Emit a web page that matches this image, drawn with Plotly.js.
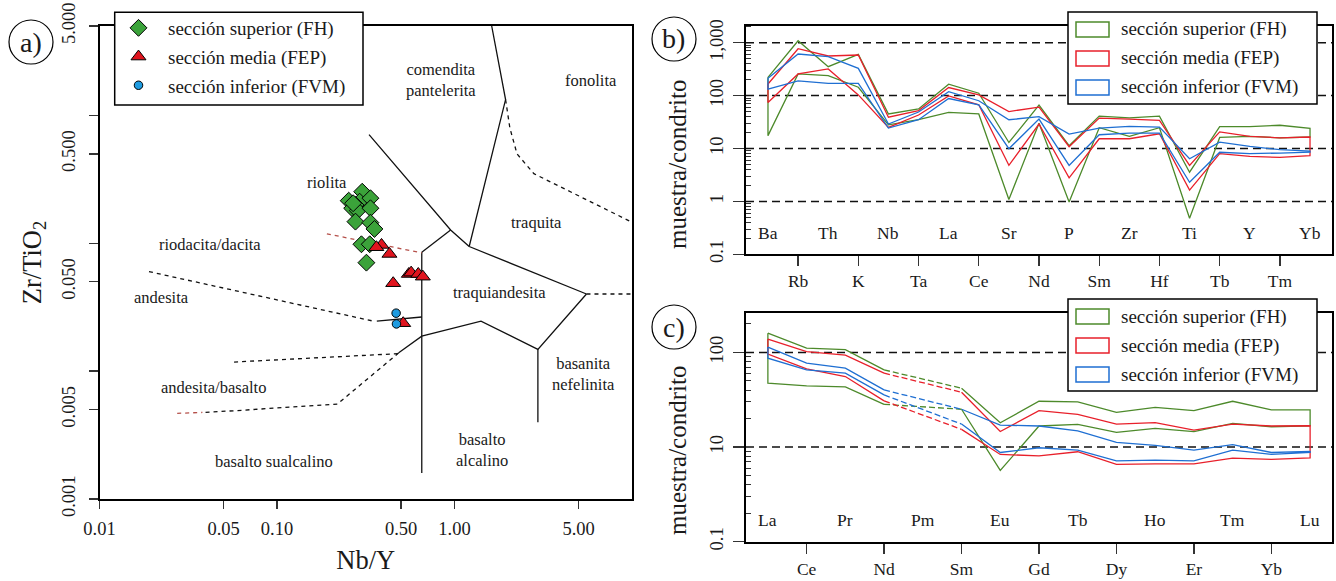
<!DOCTYPE html>
<html><head><meta charset="utf-8">
<script src="https://cdn.plot.ly/plotly-3.0.1.min.js"></script>
<style>html,body{margin:0;padding:0;background:#fff}#chart{width:1336px;height:581px}</style>
</head><body><div id="chart"></div>
<script>
// ---------- Panel a: Zr/TiO2 vs Nb/Y ----------
const seriesNames = ['sección superior (FH)', 'sección media (FEP)', 'sección inferior (FVM)'];
const fhNbY     = [0.302, 0.2535, 0.292, 0.336, 0.2767, 0.265, 0.285, 0.336, 0.2767, 0.336, 0.354, 0.299, 0.333, 0.319, 0.2685];
const fhZrTiO2  = [0.253, 0.2153, 0.2114, 0.225, 0.1993, 0.1878, 0.180, 0.1878, 0.1476, 0.1449, 0.1294, 0.0982, 0.0982, 0.0705, 0.2056];
const fepNbY    = [0.388, 0.363, 0.430, 0.553, 0.570, 0.625, 0.663, 0.4515, 0.514];
const fepZrTiO2 = [0.0970, 0.0931, 0.0825, 0.0575, 0.0589, 0.0575, 0.0548, 0.0487, 0.0237];
const fvmNbY    = [0.469, 0.471];
const fvmZrTiO2 = [0.0284, 0.0234];

// field boundaries (null separates segments)
const solidNbY  = [0.330, 0.951, 1.21, null, 0.951, 0.654, null, 1.62, 1.94, 1.21, null, 1.21, 5.54, null, 0.654, 0.654, null, 0.365, 0.654, null, 0.485, 0.654, 1.41, 2.95, 5.54, null, 2.95, 2.95];
const solidZrTi = [0.708, 0.127, 0.0943, null, 0.127, 0.0851, null, 5.0, 1.33, 0.0943, null, 0.0943, 0.0401, null, 0.0851, 0.0016, null, 0.0246, 0.0265, null, 0.0139, 0.01875, 0.0246, 0.0148, 0.0401, null, 0.0148, 0.00398];
const dashNbY   = [1.94, 2.05, 2.25, 2.80, 10, null, 5.54, 10, null, 0.019, 0.349, null, 0.0573, 0.485, null, 0.485, 0.219, 0.0589, 0.038];
const dashZrTi  = [1.33, 0.80, 0.50, 0.35, 0.146, null, 0.0401, 0.0401, null, 0.060, 0.0246, null, 0.01178, 0.0137, null, 0.0139, 0.00553, 0.00491, 0.00475];
const redDashNbY  = [0.191, 0.654, null, 0.0274, 0.038];
const redDashZrTi = [0.1185, 0.0841, null, 0.00468, 0.00475];

const fieldNames = ['comendita<br>pantelerita', 'fonolita', 'riolita', 'traquita', 'riodacita/dacita', 'traquiandesita', 'andesita', 'andesita/basalto', 'basanita<br>nefelinita', 'basalto sualcalino', 'basalto<br>alcalino'];
const fieldNbY   = [0.838, 5.85, 0.191, 2.90, 0.0417, 1.785, 0.0224, 0.0436, 5.33, 0.0964, 1.43];
const fieldZrTi  = [1.89, 1.86, 0.301, 0.146, 0.0972, 0.041, 0.0377, 0.00745, 0.00946, 0.00195, 0.0024];

const aXTicks = [0.01, 0.05, 0.1, 0.5, 1, 5];
const aXText  = ['0.01', '0.05', '0.10', '0.50', '1.00', '5.00'];
const aYTicks = [0.001, 0.005, 0.05, 0.5, 5];
const aYText  = ['0.001', '0.005', '0.050', '0.500', '5.000'];
const aYMinorTicks = [0.01, 0.1, 1];

// ---------- Panel b: multi-element spider (muestra/condrito) ----------
const spiderElems  = ['Ba','Rb','Th','K','Nb','Ta','La','Ce','Sr','Nd','P','Sm','Zr','Hf','Ti','Tb','Y','Tm','Yb'];
const fhSpiderMax  = [222, 1090, 353, 603, 45, 56, 164, 111, 13, 66, 11.3, 41, 38, 41, 3.56, 26, 26, 27.5, 24];
const fhSpiderMin  = [17.5, 257, 239, 144, 28, 35, 48, 45, 1.09, 30, 0.97, 24.7, 17, 24.7, 0.48, 16.2, 17, 15.9, 16.5];
const fepSpiderMax = [166, 770, 561, 586, 39, 52, 142, 103, 50, 60.5, 10.8, 37.6, 36, 34, 4.8, 20.6, 17, 15.9, 16.5];
const fepSpiderMin = [74, 257, 319, 103, 25, 43, 99, 67, 4.8, 29, 2.78, 15.3, 15.3, 19, 1.63, 8, 7.1, 6.8, 7.3];
const fvmSpiderMax = [213, 612, 545, 328, 29, 49, 119, 80, 35, 40, 18.7, 24.3, 26.2, 25.4, 6.4, 13.2, 11, 9.5, 8.9];
const fvmSpiderMin = [132, 190, 171, 171, 24.3, 35, 88, 67, 9.9, 36, 4.8, 18.2, 19.6, 19.6, 2.3, 8.5, 8, 8.2, 8.5];
const bYTicks = [0.1, 1, 10, 100, 1000];
const bYText  = ['0.1', '1', '10', '100', '1,000'];

// ---------- Panel c: REE (muestra/condrito) ----------
const reeElems  = ['La','Ce','Pr','Nd','Pm','Sm','Eu','Gd','Tb','Dy','Ho','Er','Tm','Yb','Lu'];
const fhReeMax  = [160, 111, 107, 65.5, null, 41.9, 18.1, 30.5, 30, 23.3, 26.3, 24.3, 30.5, 24.7, 24.7];
const fhReeMin  = [47.3, 44.3, 43.3, 28.3, null, 25.1, 5.66, 16.7, 17.4, 14.3, 15.8, 14.6, 17.8, 16.4, 16.8];
const fepReeMax = [138, 102, 93.7, 60.4, null, 38, 14.6, 24.3, 22.2, 17.5, 18.1, 15.1, 17.5, 16.7, 16.8];
const fepReeMin = [96, 67.1, 55.7, 30.8, null, 15.4, 8.36, 8.09, 8.93, 6.55, 6.65, 6.65, 7.64, 7.4, 7.7];
const fvmReeMax = [114, 77.1, 68.2, 40.2, null, 25.1, 17.1, 16.7, 14.8, 11.2, 10.4, 9.3, 10.6, 8.77, 8.99];
const fvmReeMin = [87.1, 65.5, 60.4, 35.6, null, 17.5, 8.77, 9.84, 9.3, 7.16, 7.28, 7.16, 9.3, 8.36, 8.77];
const cYTicks = [1, 10, 100];
const cYText  = ['0.1', '10', '100'];

const yTitleSpider = 'muestra/condrito';

// ---------- styling ----------
const FONT = 'Liberation Serif, "Times New Roman", serif';
const TXT = '#1a1a1a';
const lineColors = ['#4d8a2b', '#e8202b', '#1f6fd2'];
const markerColors = ['#3ba33a', '#e0141e', '#1e9be0'];
const W = 1336, H = 581;
const px = v => v / W, py = v => 1 - v / H;

function envelope(maxArr, minArr) {
  const idx = maxArr.map((_, i) => i);
  const xs = idx.concat(idx.slice().reverse(), [0]);
  const ys = maxArr.concat(minArr.slice().reverse(), [maxArr[0]]);
  return {xs, ys};
}
function minorVals(lo, hi) {
  const out = [];
  for (let d = lo; d < hi; d++) for (let k = 2; k <= 9; k++) out.push(k * Math.pow(10, d));
  return out;
}

const traces = [];
// Panel a boundaries
traces.push({x: solidNbY, y: solidZrTi, xaxis:'x', yaxis:'y', mode:'lines', line:{color:'#111', width:1.3}, showlegend:false, hoverinfo:'skip', connectgaps:false});
traces.push({x: dashNbY, y: dashZrTi, xaxis:'x', yaxis:'y', mode:'lines', line:{color:'#111', width:1.3, dash:'4px,4px'}, showlegend:false, hoverinfo:'skip', connectgaps:false});
traces.push({x: redDashNbY, y: redDashZrTi, xaxis:'x', yaxis:'y', mode:'lines', line:{color:'#b5504a', width:1.3, dash:'4px,4px'}, showlegend:false, hoverinfo:'skip', connectgaps:false});
// Panel a points
const ptsX = [fhNbY, fepNbY, fvmNbY], ptsY = [fhZrTiO2, fepZrTiO2, fvmZrTiO2];
const symbols = ['diamond', 'triangle-up', 'circle'], sizes = [13, 13, 8.5];
for (let i = 0; i < 3; i++) {
  traces.push({x: ptsX[i], y: ptsY[i], xaxis:'x', yaxis:'y', mode:'markers', name: seriesNames[i], legendgroup:'g'+i,
    marker:{symbol: symbols[i], size: sizes[i], color: markerColors[i], line:{color:'#000', width:1}}});
}
// Panel b envelopes
const bMax = [fhSpiderMax, fepSpiderMax, fvmSpiderMax], bMin = [fhSpiderMin, fepSpiderMin, fvmSpiderMin];
for (let i = 0; i < 3; i++) {
  const e = envelope(bMax[i], bMin[i]);
  traces.push({x: e.xs, y: e.ys, xaxis:'x2', yaxis:'y2', mode:'lines', line:{color: lineColors[i], width:1.3}, showlegend:false, hoverinfo:'skip'});
}
// Panel c envelopes (Pm has no data -> dashed across it)
const cMax = [fhReeMax, fepReeMax, fvmReeMax], cMin = [fhReeMin, fepReeMin, fvmReeMin];
const iNd = reeElems.indexOf('Nd'), iSm = reeElems.indexOf('Sm');
for (let i = 0; i < 3; i++) {
  const e = envelope(cMax[i], cMin[i]);
  traces.push({x: e.xs, y: e.ys, xaxis:'x3', yaxis:'y3', mode:'lines', line:{color: lineColors[i], width:1.3}, showlegend:false, hoverinfo:'skip', connectgaps:false});
  traces.push({x: [iNd, iSm, null, iNd, iSm], y: [cMax[i][iNd], cMax[i][iSm], null, cMin[i][iNd], cMin[i][iSm]],
    xaxis:'x3', yaxis:'y3', mode:'lines', line:{color: lineColors[i], width:1.3, dash:'6px,3px'}, showlegend:false, hoverinfo:'skip', connectgaps:false});
}

const bIdx = spiderElems.map((_, i) => i), cIdx = reeElems.map((_, i) => i);
const odd = a => a.filter(i => i % 2 === 1), even = a => a.filter(i => i % 2 === 0);

const baseAxis = {showline:true, mirror:true, linecolor:'#000', linewidth:2, showgrid:false, zeroline:false, tickcolor:'#333', tickwidth:1.3, tickfont:{family:FONT, size:18.5, color:TXT}};

const shapes = [], annotations = [];
// horizontal dashed reference lines
[1, 10, 100, 1000].forEach(v => shapes.push({type:'line', xref:'x2 domain', x0:0, x1:1, yref:'y2', y0:v, y1:v, line:{color:'#111', width:1.5, dash:'8px,5px'}, layer:'below'}));
[10, 100].forEach(v => shapes.push({type:'line', xref:'x3 domain', x0:0, x1:1, yref:'y3', y0:v, y1:v, line:{color:'#111', width:1.5, dash:'8px,5px'}, layer:'below'}));

// legend boxes
shapes.push({type:'rect', xref:'paper', yref:'paper', x0:px(114.7), x1:px(363), y0:py(105), y1:py(12.3), fillcolor:'#fff', line:{color:'#000', width:1.5}, layer:'above'});
const legTops = [12, 299];
legTops.forEach(top => {
  shapes.push({type:'rect', xref:'paper', yref:'paper', x0:px(1068), x1:px(1317), y0:py(top+92), y1:py(top), fillcolor:'#fff', line:{color:'#000', width:1.5}, layer:'above'});
  for (let i = 0; i < 3; i++) {
    const cy = top + 17.5 + i * 29;
    shapes.push({type:'rect', xref:'paper', yref:'paper', x0:px(1076), x1:px(1109), y0:py(cy+7.5), y1:py(cy-7.5), line:{color: lineColors[i], width:1.5}, fillcolor:'rgba(0,0,0,0)', layer:'above'});
    annotations.push({xref:'paper', yref:'paper', x:px(1119), y:py(cy), xanchor:'left', yanchor:'middle', text: seriesNames[i], showarrow:false, font:{family:FONT, size:19, color:TXT}});
  }
});

// panel letters
[['a)', 31, 42], ['b)', 674, 39], ['c)', 674, 327]].forEach(p => {
  shapes.push({type:'circle', xref:'paper', yref:'paper', x0:px(p[1]-22), x1:px(p[1]+22), y0:py(p[2]+22), y1:py(p[2]-22), line:{color:'#000', width:1.2}, layer:'above'});
  annotations.push({xref:'paper', yref:'paper', x:px(p[1]), y:py(p[2]), text:p[0], showarrow:false, xanchor:'center', yanchor:'middle', font:{family:FONT, size:28, color:TXT}});
});

// y titles of panels b and c
[[165], [451]].forEach(p => annotations.push({xref:'paper', yref:'paper', x:px(677), y:py(p[0]), text:yTitleSpider, textangle:-90, showarrow:false, xanchor:'center', yanchor:'middle', font:{family:FONT, size:25, color:TXT}}));

// field names (annotations on log axes use log10 coordinates)
fieldNames.forEach((t, i) => annotations.push({xref:'x', yref:'y', x: Math.log10(fieldNbY[i]), y: Math.log10(fieldZrTi[i]), text: t, showarrow:false, xanchor:'center', yanchor:'middle', font:{family:FONT, size:16.5, color:TXT}}));

// inside tick labels for even categories
even(bIdx).forEach(i => annotations.push({xref:'x2', yref:'y2 domain', x:i, y:0.093, xanchor:'center', yanchor:'middle', text: spiderElems[i], showarrow:false, font:{family:FONT, size:17.5, color:TXT}}));
even(cIdx).forEach(i => annotations.push({xref:'x3', yref:'y3 domain', x:i, y:0.095, xanchor:'center', yanchor:'middle', text: reeElems[i], showarrow:false, font:{family:FONT, size:17.5, color:TXT}}));

const catFont = {family:FONT, size:17.5, color:TXT};
const layout = {
  width:W, height:H, margin:{l:0, r:0, t:0, b:0},
  paper_bgcolor:'#fff', plot_bgcolor:'rgba(0,0,0,0)',
  font:{family:FONT, size:17, color:TXT},
  showlegend:true,
  legend:{x:px(109), y:py(9), xanchor:'left', yanchor:'top', bgcolor:'rgba(0,0,0,0)', borderwidth:0,
    font:{family:FONT, size:19, color:TXT}, traceorder:'grouped', tracegroupgap:1, itemwidth:49},
  xaxis: Object.assign({}, baseAxis, {type:'log', domain:[px(99.5), px(632)], range:[-2, 1], anchor:'y',
    tickmode:'array', tickvals:aXTicks, ticktext:aXText, ticks:'outside', ticklen:8, ticklabelstandoff:4,
    title:{text:'Nb/Y', font:{family:FONT, size:26.5, color:TXT}, standoff:12}}),
  yaxis: Object.assign({}, baseAxis, {type:'log', domain:[py(499), py(26)], range:[-3, Math.log10(5)], anchor:'x',
    tickmode:'array', tickvals:aYTicks, ticktext:aYText, ticks:'outside', ticklen:9, tickangle:-90, ticklabelstandoff:6,
    minor:{tickmode:'array', tickvals:aYMinorTicks, ticks:'outside', ticklen:9, tickcolor:'#333', tickwidth:1.3, showgrid:false},
    title:{text:'Zr/TiO<sub>2</sub>', font:{family:FONT, size:26.5, color:TXT}, standoff:10}}),
  xaxis2: Object.assign({}, baseAxis, {domain:[px(746), px(1332)], range:[-0.73, 18.73], anchor:'y2',
    tickmode:'array', tickvals: odd(bIdx), ticktext: odd(bIdx).map(i => spiderElems[i]), ticks:'outside', ticklen:10, ticklabelstandoff:0, tickfont:catFont}),
  yaxis2: Object.assign({}, baseAxis, {type:'log', domain:[py(254.3), py(26)], range:[-1, 3.316], anchor:'x2',
    tickmode:'array', tickvals:bYTicks, ticktext:bYText, ticks:'outside', ticklen:11, tickangle:-90, ticklabelstandoff:3,
    minor:{tickmode:'array', tickvals:minorVals(-1, 4), ticks:'inside', ticklen:5, tickcolor:'#333', tickwidth:1, showgrid:false}}),
  xaxis4: {overlaying:'x2', anchor:'y2', range:[-0.73, 18.73], showline:false, showgrid:false, zeroline:false,
    tickmode:'array', tickvals: even(bIdx), ticks:'inside', ticklen:8, tickcolor:'#333', tickwidth:1.3, showticklabels:false},
  xaxis3: Object.assign({}, baseAxis, {domain:[px(746), px(1332)], range:[-0.565, 14.565], anchor:'y3',
    tickmode:'array', tickvals: odd(cIdx), ticktext: odd(cIdx).map(i => reeElems[i]), ticks:'outside', ticklen:10, ticklabelstandoff:0, tickfont:catFont}),
  yaxis3: Object.assign({}, baseAxis, {type:'log', domain:[py(541.7), py(313.3)], range:[0, 2.414], anchor:'x3',
    tickmode:'array', tickvals:cYTicks, ticktext:cYText, ticks:'outside', ticklen:11, tickangle:-90, ticklabelstandoff:3,
    minor:{tickmode:'array', tickvals:minorVals(0, 3), ticks:'inside', ticklen:5, tickcolor:'#333', tickwidth:1, showgrid:false}}),
  xaxis5: {overlaying:'x3', anchor:'y3', range:[-0.565, 14.565], showline:false, showgrid:false, zeroline:false,
    tickmode:'array', tickvals: even(cIdx), ticks:'inside', ticklen:8, tickcolor:'#333', tickwidth:1.3, showticklabels:false},
  shapes, annotations
};

Plotly.newPlot('chart', traces, layout, {displayModeBar:false, staticPlot:true});
</script>
</body></html>
